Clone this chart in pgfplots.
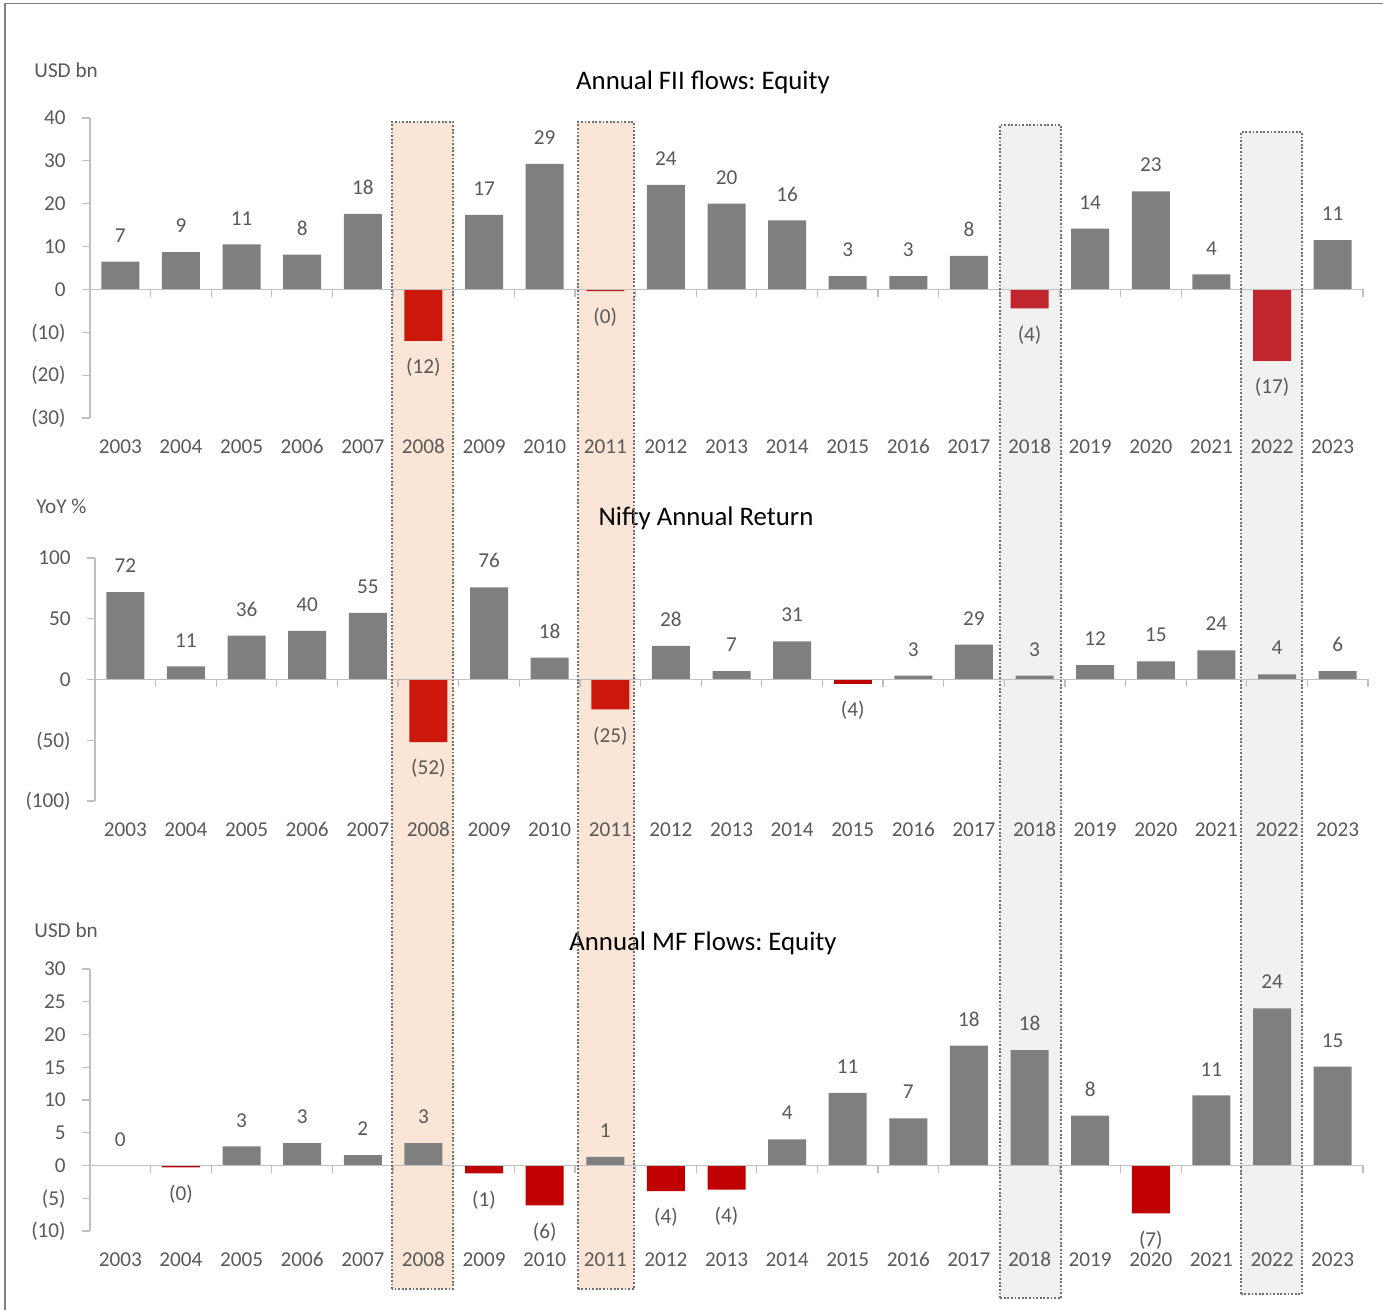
\documentclass[border=0pt]{standalone}
\usepackage{pgfplots}
\pgfplotsset{compat=1.18}
\usepackage{fontspec}
\setmainfont{Carlito}
\frenchspacing
\definecolor{barg}{HTML}{7F7F7F}
\definecolor{redA}{HTML}{CC180A}
\definecolor{redB}{HTML}{C0262C}
\definecolor{redC}{HTML}{C00000}
\definecolor{axisg}{HTML}{BFBFBF}
\definecolor{txtg}{HTML}{595959}
\definecolor{peach}{HTML}{FBE5D6}
\definecolor{lgray}{HTML}{F1F1F1}
\definecolor{dotc}{HTML}{6E6E6E}
\newcommand\lbl{\fontsize{10.6pt}{12.7pt}\selectfont}
\newcommand\ttl{\fontsize{13.4pt}{16pt}\selectfont}
\pgfplotsset{
  panel/.style={
    scale only axis, width=636.5pt,
    xmin=-0.5, xmax=20.5,
    ybar, bar width=19pt, bar shift=0pt,
    axis y line=left, axis x line=bottom,
    axis line style={-},
    x axis line style={draw=none},
    y axis line style={draw=axisg, line width=0.6pt},
    xtick={0,...,20},
    xticklabels={2003,2004,2005,2006,2007,2008,2009,2010,2011,2012,2013,2014,2015,2016,2017,2018,2019,2020,2021,2022,2023},
    x tick style={draw=none},
    y tick style={draw=axisg, line width=0.6pt},
    tick align=outside, major tick length=4pt,
    xticklabel style={font=\lbl, text=txtg, anchor=base, inner sep=0pt, yshift=-13.8pt},
    yticklabel style={font=\lbl, text=txtg, anchor=base east, inner sep=0pt, xshift=-8pt, yshift=-3.4pt},
    clip=false,
    nodes near coords, point meta=explicit symbolic,
    every node near coord/.append style={font=\lbl, text=txtg, anchor=base, inner sep=0pt},
  },
  pos/.style={fill=barg, draw=none, every node near coord/.append style={yshift=9.7pt}},
  neg/.style={fill=#1, draw=none, every node near coord/.append style={yshift=-16.4pt}},
}
\newcommand\zeroline{%
  \draw[axisg, line width=0.6pt] (axis cs:-0.5,0) -- (axis cs:20.5,0);
  \pgfplotsinvokeforeach{0.5,1.5,...,20.5}{\draw[axisg, line width=0.6pt] (axis cs:##1,0) -- ([yshift=-4pt]axis cs:##1,0);}%
}
\begin{document}
\begin{tikzpicture}[x=1pt,y=1pt]
\useasboundingbox (0,0) rectangle (691.5,655);
% frame
\draw[gray, line width=0.8pt] (2.5,0) -- (2.5,653.3) -- (691.5,653.3);
% highlight bands
\fill[peach] (196,10.5) rectangle (226.5,594);
\fill[peach] (289,10.5) rectangle (317,594);
\fill[lgray] (500,6) rectangle (530.5,592.5);
\fill[lgray] (620.5,8) rectangle (651,589);
% titles and units
\node[font=\ttl, anchor=center] at (351.5,614) {Annual FII flows: Equity};
\node[font=\ttl, anchor=center] at (353,396) {Nifty Annual Return};
\node[font=\ttl, anchor=center] at (351.5,183.5) {Annual MF Flows: Equity};
\node[font=\lbl, text=txtg, anchor=west, inner sep=0pt] at (17,620) {USD bn};
\node[font=\lbl, text=txtg, anchor=west, inner sep=0pt] at (18,402) {YoY \%};
\node[font=\lbl, text=txtg, anchor=west, inner sep=0pt] at (17,190) {USD bn};

% Panel 1: FII
\begin{axis}[panel, at={(45pt,446pt)}, anchor=south west, height=150pt,
  ymin=-30, ymax=40, ytick={-30,-20,...,40},
  yticklabels={(30),(20),(10),0,10,20,30,40}]
\addplot[pos] coordinates {(0,6.5)[7] (1,8.7)[9] (2,10.5)[11] (3,8.1)[8] (4,17.6)[18]
  (6,17.4)[17] (7,29.3)[29] (9,24.4)[24] (10,20.0)[20] (11,16.1)[16] (12,3.1)[3]
  (13,3.1)[3] (14,7.8)[8] (16,14.2)[14] (17,22.9)[23] (18,3.5)[4] (20,11.5)[11]};
\addplot[neg=redA] coordinates {(5,-12.0)[(12)] (8,-0.4)[(0)]};
\addplot[neg=redB] coordinates {(15,-4.4)[(4)] (19,-16.7)[(17)]};
\zeroline
\end{axis}

% Panel 2: Nifty
\begin{axis}[panel, at={(47.5pt,254.5pt)}, anchor=south west, height=121.5pt,
  ymin=-100, ymax=100, ytick={-100,-50,0,50,100},
  yticklabels={(100),(50),0,50,100}]
\addplot[pos] coordinates {(0,71.9)[72] (1,10.7)[11] (2,36)[36] (3,40)[40] (4,54.8)[55]
  (6,75.8)[76] (7,17.9)[18] (9,27.7)[28] (10,6.8)[7] (11,31.4)[31] (13,3.1)[3]
  (14,28.6)[29] (15,3.2)[3] (16,11.9)[12] (17,15.0)[15] (18,24.0)[24] (19,4.3)[4] (20,6.8)[6]};
\addplot[neg=redA] coordinates {(5,-51.6)[(52)] (8,-24.6)[(25)]};
\addplot[neg=redC] coordinates {(12,-3.5)[(4)]};
\zeroline
\end{axis}

% Panel 3: MF
\begin{axis}[panel, at={(45pt,39.5pt)}, anchor=south west, height=131pt,
  ymin=-10, ymax=30, ytick={-10,-5,...,30},
  yticklabels={(10),(5),0,5,10,15,20,25,30}]
\addplot[pos] coordinates {(0,0)[0] (2,2.9)[3] (3,3.4)[3] (4,1.6)[2] (5,3.4)[3]
  (8,1.3)[1] (11,4.0)[4] (12,11.1)[11] (13,7.2)[7] (14,18.3)[18] (15,17.6)[18]
  (16,7.6)[8] (18,10.7)[11] (19,24.0)[24] (20,15.1)[15]};
\addplot[neg=redC] coordinates {(1,-0.3)[(0)] (6,-1.2)[(1)] (7,-6.1)[(6)] (9,-3.9)[(4)]
  (10,-3.7)[(4)] (17,-7.3)[(7)]};
\zeroline
\end{axis}

% dotted band borders (on top)
\draw[dotc, line width=0.9pt, dash pattern=on 0.9pt off 0.9pt] (196,10.5) rectangle (226.5,594);
\draw[dotc, line width=0.9pt, dash pattern=on 0.9pt off 0.9pt] (289,10.5) rectangle (317,594);
\draw[dotc, line width=0.9pt, dash pattern=on 0.9pt off 0.9pt] (500,6) rectangle (530.5,592.5);
\draw[dotc, line width=0.9pt, dash pattern=on 0.9pt off 0.9pt] (620.5,8) rectangle (651,589);
\end{tikzpicture}
\end{document}
